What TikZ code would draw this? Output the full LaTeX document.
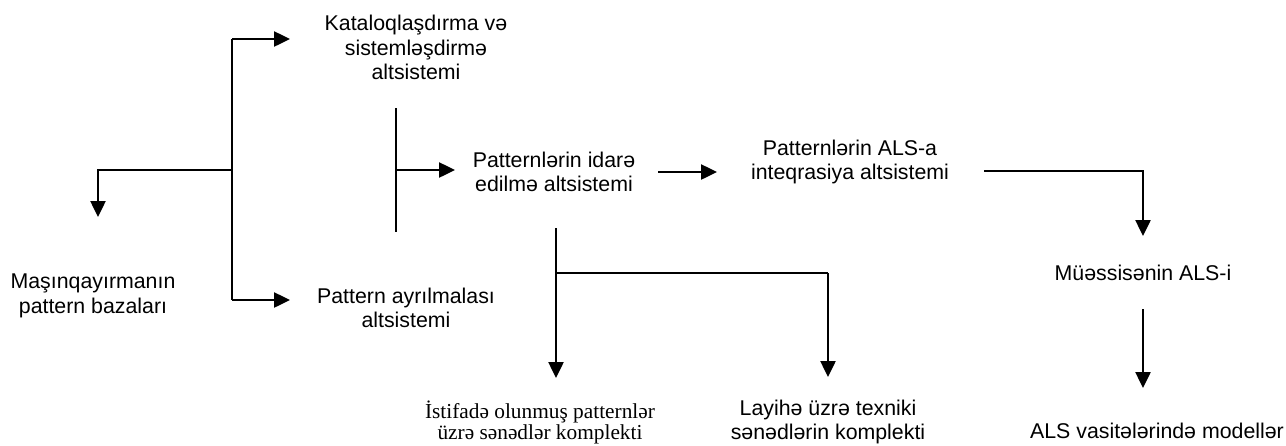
\documentclass[tikz,border=0pt]{standalone}
\usepackage{fontspec}
\setmainfont{Liberation Sans}
\newfontfamily\tnr{Liberation Serif}
\usetikzlibrary{arrows.meta}
\begin{document}
\begin{tikzpicture}[x=1pt,y=-1pt,
  lbl/.style={align=center,inner sep=0pt,font=\fontsize{21.33}{24.5}\selectfont},
  lblserif/.style={align=center,inner sep=0pt,font=\tnr\fontsize{21.33}{21}\selectfont},
  ln/.style={line width=2.5pt},
  thin/.style={line width=1.7pt},
  arr/.style={line width=2.5pt,-{Triangle[length=16pt,width=15pt]}}]
\useasboundingbox (0,0) rectangle (1286,445);
% text nodes
\node[lbl] (kat) at (416,47.5) {Kataloqlaşdırma və\\sistemləşdirmə\\altsistemi};
\node[lbl] (idare) at (554,172) {Patternlərin idarə\\edilmə altsistemi};
\node[lbl] (integ) at (850,162) {Patternlərin ALS-a\\inteqrasiya altsistemi};
\node[lbl] (pay) at (406,308) {Pattern ayrılmalası\\altsistemi};
\node[lbl] (mas) at (93,296) {Maşınqayırmanın\\pattern bazaları};
\node[lbl] (muess) at (1143,273) {Müəssisənin ALS-i};
\node[lblserif] (ist) at (540,422) {İstifadə olunmuş patternlər\\üzrə sənədlər komplekti};
\node[lbl] (lay) at (828,422) {Layihə üzrə texniki\\sənədlərin komplekti};
\node[lbl] (alsv) at (1157,431) {ALS vasitələrində modellər};
% coordinates
\coordinate (t1) at (232,39);
\coordinate (b1) at (232,300);
\coordinate (j1) at (232,170);
\coordinate (t1e) at (290,39);
\coordinate (b1e) at (290,300);
\coordinate (l1) at (98,170);
\coordinate (l1e) at (98,217);
\coordinate (v2t) at (396,108);
\coordinate (v2b) at (396,232);
\coordinate (j2) at (396,170);
\coordinate (j2e) at (455,170);
\coordinate (a3s) at (658,172);
\coordinate (a3e) at (717,172);
\coordinate (r1) at (984,171);
\coordinate (r2) at (1143,171);
\coordinate (r2e) at (1143,236);
\coordinate (m1) at (1143,309);
\coordinate (m1e) at (1143,388);
\coordinate (d1) at (556,228);
\coordinate (d1e) at (556,378);
\coordinate (j3) at (556,273);
\coordinate (j4) at (828,273);
\coordinate (j4e) at (828,377);
% connectors
\draw[ln] (t1) -- (b1);
\draw[arr] (t1) -- (t1e);
\draw[arr] (b1) -- (b1e);
\draw[arr] (j1) -- (l1) -- (l1e);
\draw[thin] (v2t) -- (v2b);
\draw[arr] (j2) -- (j2e);
\draw[arr] (a3s) -- (a3e);
\draw[arr] (r1) -- (r2) -- (r2e);
\draw[arr] (m1) -- (m1e);
\draw[arr] (d1) -- (d1e);
\draw[thin] (j3) -- (j4);
\draw[arr] (j4) -- (j4e);
\end{tikzpicture}
\end{document}
